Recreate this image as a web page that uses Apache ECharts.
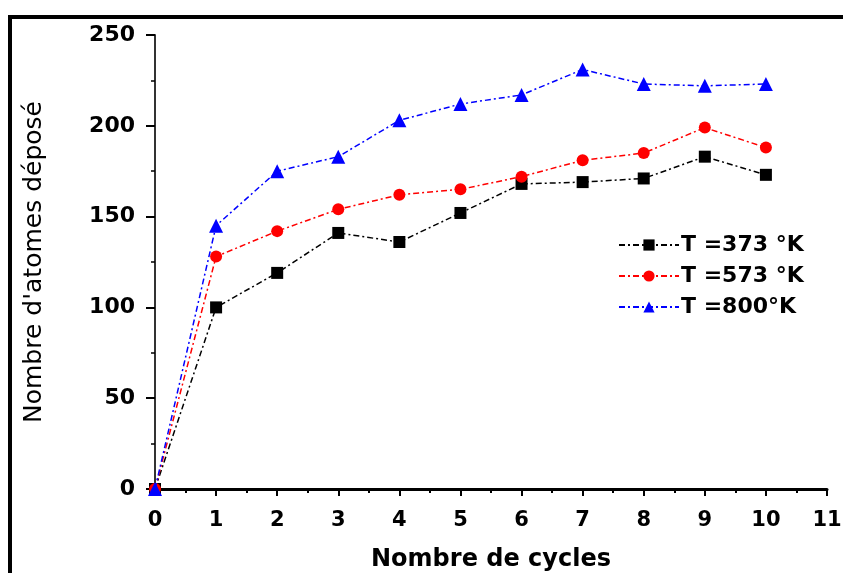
<!DOCTYPE html>
<html>
<head>
<meta charset="utf-8">
<script src="https://cdn.jsdelivr.net/npm/echarts@6/dist/echarts.min.js"></script>
<style>
html, body { margin: 0; padding: 0; background: #fff; }
#main { width: 843px; height: 573px; }
</style>
</head>
<body>
<div id="main"></div>
<script>
var myChart = echarts.init(document.getElementById('main'));

// cycles
var cycles = [0, 1, 2, 3, 4, 5, 6, 7, 8, 9, 10];
// series names
var names = ['T =373 °K', 'T =573 °K', 'T =800°K'];
// atoms deposited
var t373 = [0, 100, 119, 141, 136, 152, 168, 169, 171, 183, 173];
var t573 = [0, 128, 142, 154, 162, 165, 172, 181, 185, 199, 188];
var t800 = [0, 145, 175, 183, 203, 212, 217, 231, 223, 222, 223];
var colors = ['#000000', '#ff0000', '#0000ff'];
var symbols = ['rect', 'circle', 'triangle'];

function pairs(arr) {
    return arr.map(function (v, i) { return [cycles[i], v]; });
}

var fontB = 'DejaVu Sans';
var allData = [t373, t573, t800];
var series = [];
for (var i = 0; i < names.length; i++) {
    series.push({
        name: names[i],
        type: 'line',
        symbol: symbols[i],
        symbolSize: i == 2 ? 14 : 12,
        showAllSymbol: true,
        data: pairs(allData[i]),
        itemStyle: { color: colors[i] },
        lineStyle: { color: colors[i], width: 1.5, type: [6, 3, 2, 3] },
        z: 3 + i
    });
}

var option = {
    backgroundColor: '#fff',
    animation: false,
    graphic: [
        // outer frame (top and left edges)
        { type: 'rect', shape: { x: 8, y: 15, width: 835, height: 4 }, style: { fill: '#000' } },
        { type: 'rect', shape: { x: 8, y: 15, width: 4, height: 558 }, style: { fill: '#000' } }
    ],
    legend: {
        orient: 'vertical',
        left: 613,
        top: 229,
        padding: 5,
        itemGap: 9,
        itemWidth: 60,
        itemHeight: 14,
        data: names,
        textStyle: {
            color: '#000',
            fontSize: 22,
            fontFamily: fontB,
            fontWeight: 'bold',
            padding: [0, 0, 0, -3]
        }
    },
    grid: {
        left: 155,
        right: 16,
        top: 35,
        bottom: 84,
        containLabel: false,
        outerBoundsMode: 'none'
    },
    xAxis: {
        type: 'value',
        min: 0,
        max: 11,
        interval: 1,
        name: 'Nombre de cycles',
        nameLocation: 'middle',
        nameGap: 59,
        nameTextStyle: {
            color: '#000',
            fontSize: 24,
            fontWeight: 'bold',
            fontFamily: fontB
        },
        axisLine: { show: true, lineStyle: { color: '#000', width: 3 } },
        axisTick: { show: true, inside: false, length: 7, lineStyle: { color: '#000', width: 2 } },
        minorTick: { show: true, splitNumber: 2, length: 4, lineStyle: { color: '#000', width: 2 } },
        axisLabel: {
            color: '#000',
            fontSize: 21,
            fontWeight: 'bold',
            fontFamily: fontB,
            margin: 21
        },
        splitLine: { show: false }
    },
    yAxis: {
        type: 'value',
        min: 0,
        max: 250,
        interval: 50,
        name: "Nombre d'atomes déposé",
        nameLocation: 'middle',
        nameGap: 108,
        nameTextStyle: {
            color: '#000',
            fontSize: 25,
            fontFamily: fontB
        },
        axisLine: { show: true, lineStyle: { color: '#333', width: 2 } },
        axisTick: { show: true, inside: false, length: 9, lineStyle: { color: '#000', width: 2 } },
        minorTick: { show: true, splitNumber: 2, length: 4, lineStyle: { color: '#000', width: 1.5 } },
        axisLabel: {
            color: '#000',
            fontSize: 22,
            fontWeight: 'bold',
            fontFamily: fontB,
            margin: 20
        },
        splitLine: { show: false }
    },
    series: series
};

myChart.setOption(option);
</script>
</body>
</html>
